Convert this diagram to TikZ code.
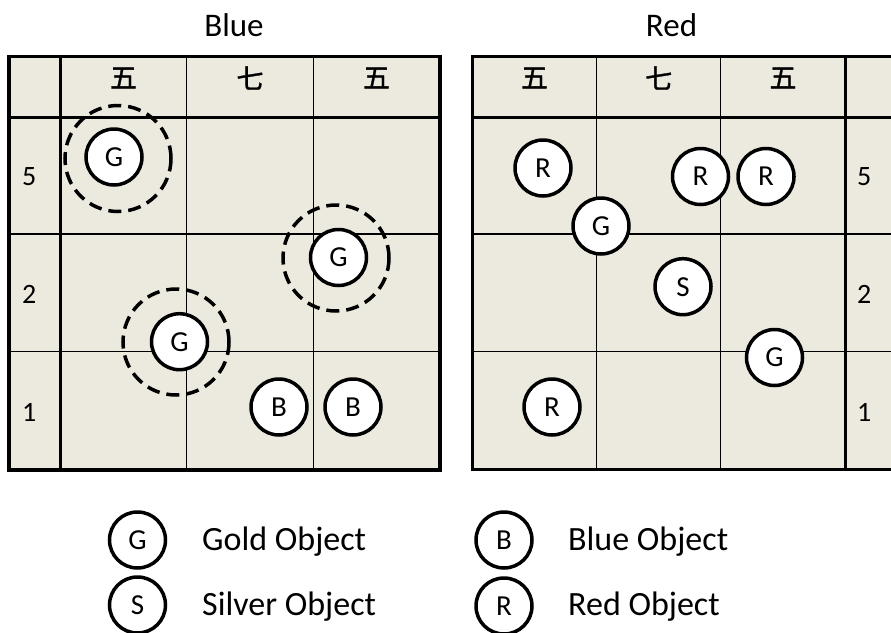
\documentclass[tikz,border=0pt]{standalone}
\usepackage{fontspec}
\setmainfont{Carlito}
\newfontfamily\cjkfont[FakeBold=1.2]{Noto Sans CJK JP}
\definecolor{boardfill}{RGB}{236,233,223}
\tikzset{
  obj/.style={circle, draw=black, line width=3.5pt, fill=white, minimum size=56pt, inner sep=0pt, font=\fontsize{29}{29}\selectfont},
  ring/.style={circle, draw=black, line width=3.5pt, dash pattern=on 13pt off 7pt, minimum size=106pt, inner sep=0pt},
  thinline/.style={line width=1.3pt},
  thickline/.style={line width=3pt},
  outerline/.style={line width=3.6pt},
  kanji/.style={font=\cjkfont\fontsize{27}{27}\selectfont},
  rowlabel/.style={anchor=base west, inner sep=0pt, font=\fontsize{28}{28}\selectfont},
  title/.style={anchor=base, inner sep=0pt, font=\fontsize{33}{33}\selectfont},
  legtext/.style={anchor=base west, inner sep=0pt, font=\fontsize{34}{34}\selectfont}
}
\begin{document}
\begin{tikzpicture}[x=1pt,y=-1pt]
\useasboundingbox (0,0) rectangle (891,632);
\clip (0,0) rectangle (891,632);
% titles
\node[title] (tblue) at (234,36) {Blue};
\node[title] (tred) at (671.5,36) {Red};
% ---- left board ----
\fill[boardfill] (9,56.5) rectangle (440,470);
\draw[thinline] (186.7,56.5) -- (186.7,470) (313.3,56.5) -- (313.3,470);
\draw[thinline] (9,234) -- (440,234) (9,351.7) -- (440,351.7);
\draw[thickline] (9,117) -- (440,117) (60,56.5) -- (60,470);
\draw[outerline] (9,56.5) rectangle (440,470);
\node[kanji] (lh1) at (123.5,78) {五};
\node[kanji] (lh2) at (250,78) {七};
\node[kanji] (lh3) at (376.5,78) {五};
\node[rowlabel] (lr5) at (22,185) {5};
\node[rowlabel] (lr2) at (22,303) {2};
\node[rowlabel] (lr1) at (22,421) {1};
\node[ring] (ring1) at (118,158.5) {};
\node[ring] (ring2) at (176,342) {};
\node[ring] (ring3) at (336,258) {};
\node[obj] (lg1) at (114,157) {G};
\node[obj] (lg2) at (179.5,341.7) {G};
\node[obj] (lg3) at (338.5,257.5) {G};
\node[obj] (lb1) at (279,407) {B};
\node[obj] (lb2) at (353,407) {B};
% ---- right board ----
\fill[boardfill] (472.3,56.5) rectangle (900,469.5);
\draw[thinline] (596.7,56.5) -- (596.7,469.5) (720.7,56.5) -- (720.7,469.5);
\draw[thinline] (472.3,234) -- (900,234) (472.3,351.7) -- (900,351.7);
\draw[thickline] (472.3,117) -- (900,117) (845.3,56.5) -- (845.3,469.5);
\draw[outerline] (472.3,56.5) rectangle (900,469.5);
\node[kanji] (rh1) at (534.5,78) {五};
\node[kanji] (rh2) at (658.7,78) {七};
\node[kanji] (rh3) at (783,78) {五};
\node[rowlabel] (rr5) at (857,185) {5};
\node[rowlabel] (rr2) at (857,303) {2};
\node[rowlabel] (rr1) at (857,421) {1};
\node[obj] (rr1c) at (543,168) {R};
\node[obj] (rgc1) at (601,226) {G};
\node[obj] (rr2c) at (700.5,176.5) {R};
\node[obj] (rr3c) at (766,176.5) {R};
\node[obj] (rsc) at (683,286.7) {S};
\node[obj] (rgc2) at (774.5,357.5) {G};
\node[obj] (rr4c) at (552,407) {R};
% ---- legend ----
\node[obj] (legG) at (137.5,540) {G};
\node[obj] (legS) at (137.5,605) {S};
\node[obj] (legB) at (504,540) {B};
\node[obj] (legR) at (504,606) {R};
\node[legtext] (tG) at (202,550) {Gold Object};
\node[legtext] (tS) at (202,615) {Silver Object};
\node[legtext] (tB) at (568,550) {Blue Object};
\node[legtext] (tR) at (568,615) {Red Object};
\end{tikzpicture}
\end{document}
